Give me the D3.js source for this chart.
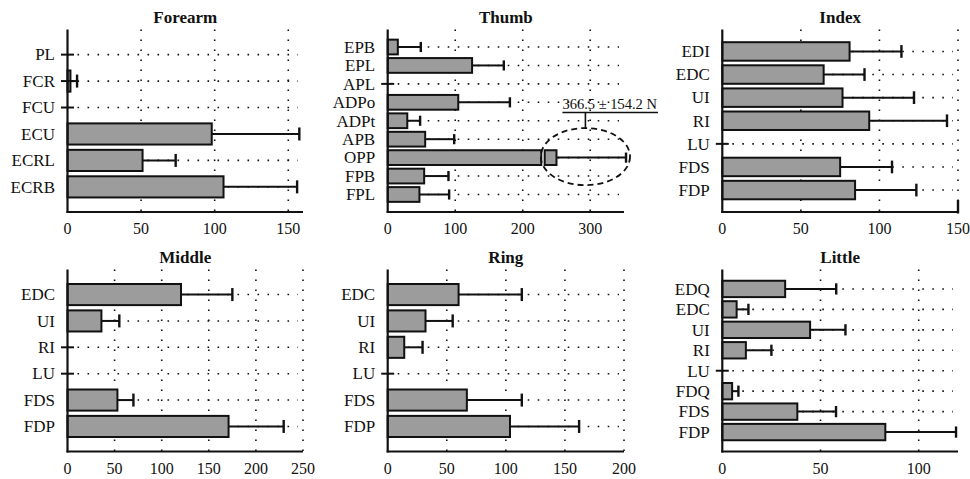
<!DOCTYPE html>
<html><head><meta charset="utf-8">
<script src="https://cdn.jsdelivr.net/npm/d3@7/dist/d3.min.js"></script>
<style>
html,body{margin:0;padding:0;background:#fff;}
svg text{font-family:"Liberation Serif","Times New Roman",serif;fill:#111;}
</style></head>
<body><svg id="chart" width="970" height="479"></svg>
<script>
// ---------- data ----------
const forearmCats = ["PL","FCR","FCU","ECU","ECRL","ECRB"];
const forearmMean = [0, 2, 0, 98, 51, 106];
const forearmSD   = [0, 4.5, 0, 59.5, 22.5, 50];

const thumbCats = ["EPB","EPL","APL","ADPo","ADPt","APB","OPP","FPB","FPL"];
const thumbMean = [15, 125, 0, 104.5, 29, 55.5, 250, 54, 47];
const thumbSD   = [34, 47, 0, 76.5, 19, 43, 103, 36, 44];
const thumbBreak = [227.5, 232.5];           // axis break on the OPP bar
const thumbNote = "366.5 \u00B1 154.2 N";    // true OPP mean ± SD

const indexCats = ["EDI","EDC","UI","RI","LU","FDS","FDP"];
const indexMean = [81, 64.5, 76.5, 93.5, 0, 75, 84.5];
const indexSD   = [33, 26, 45.5, 49.5, 0, 33, 39];

const middleCats = ["EDC","UI","RI","LU","FDS","FDP"];
const middleMean = [120.5, 36, 0, 0, 53, 171];
const middleSD   = [54.5, 19, 0, 0, 17, 58.5];

const ringCats = ["EDC","UI","RI","LU","FDS","FDP"];
const ringMean = [60, 32, 14, 0, 67, 103.5];
const ringSD   = [53.5, 23, 15.5, 0, 46.5, 58.5];

const littleCats = ["EDQ","EDC","UI","RI","LU","FDQ","FDS","FDP"];
const littleMean = [32, 7.3, 44.7, 12, 0, 5, 38.2, 83];
const littleSD   = [26, 6, 18, 13, 0, 3.2, 19.7, 36];

const forearmTicks = [0,50,100,150];
const thumbTicks = [0,100,200,300];
const indexTicks = [0,50,100,150];
const middleTicks = [0,50,100,150,200,250];
const ringTicks = [0,50,100,150,200];
const littleTicks = [0,50,100];

// ---------- layout ----------
const cols = [[67.5, 303], [387.7, 624], [722.3, 958]];
const rows = [[29.5, 212], [269.5, 451.5]];

const panels = [
  {title:"Forearm", cats:forearmCats, mean:forearmMean, sd:forearmSD, max:160, ticks:forearmTicks, col:0, row:0},
  {title:"Thumb",   cats:thumbCats,   mean:thumbMean,   sd:thumbSD,   max:350, ticks:thumbTicks,   col:1, row:0, brk:thumbBreak, note:thumbNote, noteCat:"OPP"},
  {title:"Index",   cats:indexCats,   mean:indexMean,   sd:indexSD,   max:150, ticks:indexTicks,   col:2, row:0, endTick:true},
  {title:"Middle",  cats:middleCats,  mean:middleMean,  sd:middleSD,  max:250, ticks:middleTicks,  col:0, row:1},
  {title:"Ring",    cats:ringCats,    mean:ringMean,    sd:ringSD,    max:200, ticks:ringTicks,    col:1, row:1},
  {title:"Little",  cats:littleCats,  mean:littleMean,  sd:littleSD,  max:120, ticks:littleTicks,  col:2, row:1}
];

const svg = d3.select("#chart");
const ink = "#111";
const barFill = "#9c9c9c";

panels.forEach(p => {
  const [x0, x1] = cols[p.col];
  const [yTop, yBot] = rows[p.row];
  const x = d3.scaleLinear().domain([0, p.max]).range([x0, x1]);
  const y = d3.scalePoint().domain(p.cats).range([yTop, yBot]).padding(0.95);
  const step = y.step();
  const bh = step * 0.8;
  const cap = Math.min(step * 0.55, 13);
  const data = p.cats.map((c,i) => ({c, m:p.mean[i], s:p.sd[i]}));
  const g = svg.append("g");

  // title
  g.append("text").attr("x", (x0+x1)/2).attr("y", yTop - 6.2)
    .attr("text-anchor","middle").attr("font-size", 17).attr("font-weight","bold").text(p.title);

  // vertical dotted grid
  g.selectAll(".vg").data(p.ticks.filter(t => t > 0)).enter().append("line")
    .attr("x1", d => x(d)).attr("x2", d => x(d)).attr("y1", yTop).attr("y2", yBot)
    .attr("stroke", ink).attr("stroke-width", 1.6).attr("stroke-dasharray", "1.6,8.4");

  // horizontal dotted grid
  g.selectAll(".hg").data(data).enter().append("line")
    .attr("x1", x(0)).attr("x2", x1 - 5).attr("y1", d => y(d.c)).attr("y2", d => y(d.c))
    .attr("stroke", ink).attr("stroke-width", 1.6).attr("stroke-dasharray", "1.6,8.4");

  // error bars
  const eb = g.selectAll(".eb").data(data.filter(d => d.s > 0)).enter().append("g");
  eb.append("line").attr("x1", d => x(d.m)).attr("x2", d => x(d.m + d.s))
    .attr("y1", d => y(d.c)).attr("y2", d => y(d.c)).attr("stroke", ink).attr("stroke-width", 2);
  eb.append("line").attr("x1", d => x(d.m + d.s)).attr("x2", d => x(d.m + d.s))
    .attr("y1", d => y(d.c) - cap/2).attr("y2", d => y(d.c) + cap/2).attr("stroke", ink).attr("stroke-width", 2.4);

  // bars (with optional axis break)
  data.filter(d => d.m > 0).forEach(d => {
    const segs = (p.brk && d.c === p.noteCat) ? [[0, p.brk[0]], [p.brk[1], d.m]] : [[0, d.m]];
    segs.forEach(([a,b]) => {
      g.append("rect").attr("x", x(a)).attr("width", Math.max(0.5, x(b) - x(a)))
        .attr("y", y(d.c) - bh/2).attr("height", bh)
        .attr("fill", barFill).attr("stroke", ink).attr("stroke-width", 2);
    });
  });

  // short marks for zero / near-zero means
  g.selectAll(".zm").data(data.filter(d => d.m < 3)).enter().append("line")
    .attr("x1", x(0) - 6.5).attr("x2", x(0) + 6.5).attr("y1", d => y(d.c)).attr("y2", d => y(d.c))
    .attr("stroke", ink).attr("stroke-width", 2);

  // axes lines
  g.append("line").attr("x1", x(0)).attr("x2", x(0)).attr("y1", yTop).attr("y2", yBot + 1)
    .attr("stroke", ink).attr("stroke-width", 2.2);
  g.append("line").attr("x1", x(0) - 1).attr("x2", x1).attr("y1", yBot).attr("y2", yBot)
    .attr("stroke", ink).attr("stroke-width", 2.2);
  if (p.endTick) {
    const t = p.ticks[p.ticks.length-1];
    g.append("line").attr("x1", x(t)).attr("x2", x(t)).attr("y1", yBot - 12).attr("y2", yBot + 1.5)
      .attr("stroke", ink).attr("stroke-width", 2.4);
  }

  // x tick labels
  g.selectAll(".xt").data(p.ticks).enter().append("text")
    .attr("x", d => x(d)).attr("y", yBot + 22).attr("text-anchor","middle")
    .attr("font-size", 16).text(d => d);

  // y category labels
  g.selectAll(".yt").data(data).enter().append("text")
    .attr("x", x(0) - 12.5).attr("y", d => y(d.c)).attr("dy", "0.34em")
    .attr("text-anchor","end").attr("font-size", 17).text(d => d.c);

  // annotation for broken bar
  if (p.note) {
    const d = data.find(e => e.c === p.noteCat);
    const left = x(p.brk[0]) - 0.5, right = x(d.m + d.s) + 4;
    const cx = (left + right)/2, rx = (right - left)/2, ry = step * 1.55;
    const cy = y(d.c) - 1;
    g.append("ellipse").attr("cx", cx).attr("cy", cy).attr("rx", rx).attr("ry", ry)
      .attr("fill", "none").attr("stroke", ink).attr("stroke-width", 1.8).attr("stroke-dasharray", "6,4");
    const ulY = cy - ry - 15.5;
    g.append("line").attr("x1", cx).attr("x2", cx).attr("y1", ulY).attr("y2", cy - ry)
      .attr("stroke", ink).attr("stroke-width", 1.6);
    const tx = g.append("text").attr("x", cx - 23).attr("y", ulY - 3.5).attr("font-size", 14.5).text(p.note);
    const w = tx.node().getComputedTextLength();
    g.append("line").attr("x1", cx - 23).attr("x2", cx - 23 + w + 1).attr("y1", ulY).attr("y2", ulY)
      .attr("stroke", ink).attr("stroke-width", 1.4);
  }
});
</script></body></html>
